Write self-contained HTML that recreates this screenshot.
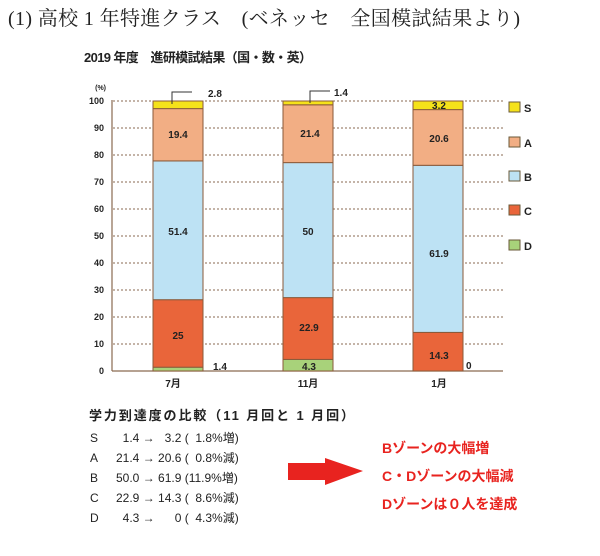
<!DOCTYPE html>
<html><head><meta charset="utf-8"><style>
body{margin:0;background:#fff;width:600px;height:551px;overflow:hidden;font-family:"Liberation Sans","Noto Sans CJK JP",sans-serif}
text{white-space:pre}
</style></head><body>
<svg width="600" height="551" xmlns="http://www.w3.org/2000/svg" font-family="Liberation Sans, Noto Sans CJK JP, sans-serif">
<text x="8" y="25" font-size="20" fill="#222" textLength="512" font-family="Liberation Serif, Noto Serif CJK SC, serif">(1) 高校 1 年特進クラス　(ベネッセ　全国模試結果より)</text>
<text x="84" y="62" font-size="13" font-weight="bold" fill="#222" textLength="228">2019 年度　進研模試結果（国・数・英）</text>
<g stroke="#8a6a50" stroke-width="1" stroke-dasharray="2,2">
<line x1="113" y1="101" x2="503" y2="101"/><line x1="113" y1="128" x2="503" y2="128"/>
<line x1="113" y1="155" x2="503" y2="155"/><line x1="113" y1="182" x2="503" y2="182"/>
<line x1="113" y1="209" x2="503" y2="209"/><line x1="113" y1="236" x2="503" y2="236"/>
<line x1="113" y1="263" x2="503" y2="263"/><line x1="113" y1="290" x2="503" y2="290"/>
<line x1="113" y1="317" x2="503" y2="317"/><line x1="113" y1="344" x2="503" y2="344"/>
</g>
<line x1="112" y1="100" x2="112" y2="371" stroke="#8a6a50" stroke-width="1.2"/>
<line x1="112" y1="371" x2="503" y2="371" stroke="#8a6a50" stroke-width="1.2"/>
<g font-size="9" font-weight="bold" fill="#222" text-anchor="end">
<text x="104" y="374">0</text><text x="104" y="347">10</text><text x="104" y="320">20</text><text x="104" y="293">30</text><text x="104" y="266">40</text><text x="104" y="239">50</text><text x="104" y="212">60</text><text x="104" y="185">70</text><text x="104" y="158">80</text><text x="104" y="131">90</text><text x="104" y="104">100</text>
<text x="106" y="90" font-size="7">(%)</text>
</g>
<g stroke="#8a5a3a" stroke-width="1">
<rect x="153" y="367.2" width="50" height="3.8" fill="#a8d27a"/>
<rect x="153" y="299.7" width="50" height="67.5" fill="#e9653a"/>
<rect x="153" y="160.9" width="50" height="138.8" fill="#bde2f4"/>
<rect x="153" y="108.6" width="50" height="52.3" fill="#f2ae84"/>
<rect x="153" y="101" width="50" height="7.6" fill="#f5e21a"/>
<rect x="283" y="359.4" width="50" height="11.6" fill="#a8d27a"/>
<rect x="283" y="297.6" width="50" height="61.8" fill="#e9653a"/>
<rect x="283" y="162.6" width="50" height="135" fill="#bde2f4"/>
<rect x="283" y="104.8" width="50" height="57.8" fill="#f2ae84"/>
<rect x="283" y="101" width="50" height="3.8" fill="#f5e21a"/>
<rect x="413" y="332.4" width="50" height="38.6" fill="#e9653a"/>
<rect x="413" y="165.3" width="50" height="167.1" fill="#bde2f4"/>
<rect x="413" y="109.6" width="50" height="55.7" fill="#f2ae84"/>
<rect x="413" y="101" width="50" height="8.6" fill="#f5e21a"/>
</g>
<polyline points="172,104 172,92 192,92" fill="none" stroke="#333" stroke-width="1"/>
<polyline points="310,103 310,91 330,91" fill="none" stroke="#333" stroke-width="1"/>
<g font-size="10" font-weight="bold" fill="#222" text-anchor="middle">
<text x="178" y="138">19.4</text><text x="178" y="235">51.4</text><text x="178" y="339">25</text>
<text x="310" y="137">21.4</text><text x="308" y="235">50</text><text x="309" y="331">22.9</text><text x="309" y="370">4.3</text>
<text x="439" y="142">20.6</text><text x="439" y="257">61.9</text><text x="439" y="359">14.3</text><text x="439" y="109">3.2</text>
<text x="208" y="97" text-anchor="start">2.8</text><text x="334" y="96" text-anchor="start">1.4</text>
<text x="213" y="370" text-anchor="start">1.4</text><text x="466" y="369" text-anchor="start">0</text>
<text x="173" y="387">7月</text><text x="308" y="387">11月</text><text x="439" y="387">1月</text>
</g>
<g stroke="#6a5a3a" stroke-width="1">
<rect x="509" y="102" width="11" height="10" fill="#f5e21a"/>
<rect x="509" y="137" width="11" height="10" fill="#f2ae84"/>
<rect x="509" y="171" width="11" height="10" fill="#bde2f4"/>
<rect x="509" y="205" width="11" height="10" fill="#e9653a"/>
<rect x="509" y="240" width="11" height="10" fill="#a8d27a"/>
</g>
<g font-size="11" font-weight="bold" fill="#222">
<text x="524" y="112">S</text><text x="524" y="147">A</text><text x="524" y="181">B</text><text x="524" y="215">C</text><text x="524" y="250">D</text>
</g>
<text x="89" y="420" font-size="13" font-weight="bold" fill="#222" textLength="265">学力到達度の比較（11 月回と 1 月回）</text>
<g font-size="12" fill="#222">
<text x="90" y="442">S</text><text x="116" y="442">  1.4 →   3.2 (  1.8%増)</text>
<text x="90" y="462">A</text><text x="116" y="462">21.4 → 20.6 (  0.8%減)</text>
<text x="90" y="482">B</text><text x="116" y="482">50.0 → 61.9 (11.9%増)</text>
<text x="90" y="502">C</text><text x="116" y="502">22.9 → 14.3 (  8.6%減)</text>
<text x="90" y="522">D</text><text x="116" y="522">  4.3 →      0 (  4.3%減)</text>
</g>
<polygon points="288,463 325,463 325,458 363,471 325,485 325,480 288,480" fill="#e8231f"/>
<g font-size="14" font-weight="bold" fill="#e8231f">
<text x="382" y="453">Bゾーンの大幅増</text>
<text x="382" y="481">C・Dゾーンの大幅減</text>
<text x="382" y="509">Dゾーンは０人を達成</text>
</g>
</svg>
</body></html>
